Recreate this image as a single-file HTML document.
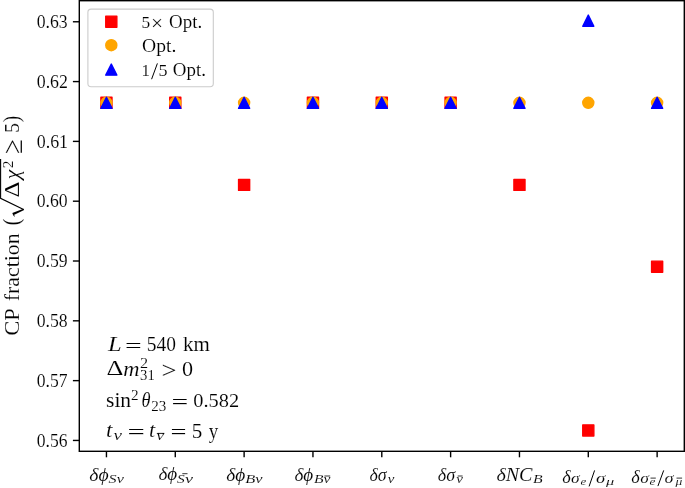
<!DOCTYPE html>
<html><head><meta charset="utf-8">
<style>
html,body{margin:0;padding:0;background:#fff;overflow:hidden;}
svg{display:block;will-change:transform;}
text{font-family:"Liberation Serif",serif;fill:#000;stroke:#fff;stroke-width:0.12px;vector-effect:non-scaling-stroke;}
</style></head>
<body>
<svg width="685" height="488" viewBox="0 0 685 488">
<rect x="0" y="0" width="685" height="488" fill="#fff"/>
<g stroke="#000" stroke-width="1.40">
<line x1="72.9" y1="21.77" x2="79.30" y2="21.77" stroke-width="1.4"/>
<line x1="72.9" y1="81.58" x2="79.30" y2="81.58" stroke-width="1.4"/>
<line x1="72.9" y1="141.39" x2="79.30" y2="141.39" stroke-width="1.4"/>
<line x1="72.9" y1="201.20" x2="79.30" y2="201.20" stroke-width="1.4"/>
<line x1="72.9" y1="261.01" x2="79.30" y2="261.01" stroke-width="1.4"/>
<line x1="72.9" y1="320.82" x2="79.30" y2="320.82" stroke-width="1.4"/>
<line x1="72.9" y1="380.63" x2="79.30" y2="380.63" stroke-width="1.4"/>
<line x1="72.9" y1="440.44" x2="79.30" y2="440.44" stroke-width="1.4"/>
<line x1="106.45" y1="451.30" x2="106.45" y2="457.3" stroke-width="1.4"/>
<line x1="175.28" y1="451.30" x2="175.28" y2="457.3" stroke-width="1.4"/>
<line x1="244.12" y1="451.30" x2="244.12" y2="457.3" stroke-width="1.4"/>
<line x1="312.95" y1="451.30" x2="312.95" y2="457.3" stroke-width="1.4"/>
<line x1="381.79" y1="451.30" x2="381.79" y2="457.3" stroke-width="1.4"/>
<line x1="450.62" y1="451.30" x2="450.62" y2="457.3" stroke-width="1.4"/>
<line x1="519.46" y1="451.30" x2="519.46" y2="457.3" stroke-width="1.4"/>
<line x1="588.29" y1="451.30" x2="588.29" y2="457.3" stroke-width="1.4"/>
<line x1="657.13" y1="451.30" x2="657.13" y2="457.3" stroke-width="1.4"/>
</g>
<text transform="translate(36.73 28.06) scale(0.9565 0.9869)" font-size="18.50">0.63</text>
<text transform="translate(36.72 87.87) scale(0.9658 0.9869)" font-size="18.50">0.62</text>
<text transform="translate(36.72 147.68) scale(0.9686 0.9869)" font-size="18.50">0.61</text>
<text transform="translate(36.73 207.49) scale(0.9559 0.9869)" font-size="18.50">0.60</text>
<text transform="translate(36.73 267.30) scale(0.9576 0.9869)" font-size="18.50">0.59</text>
<text transform="translate(36.73 327.11) scale(0.9559 0.9869)" font-size="18.50">0.58</text>
<text transform="translate(36.73 386.92) scale(0.9506 0.9869)" font-size="18.50">0.57</text>
<text transform="translate(36.73 446.73) scale(0.9512 0.9869)" font-size="18.50">0.56</text>
<rect x="100.90" y="97.30" width="11.10" height="11.10" fill="#ff0000" stroke="#ff0000" stroke-width="1.39" stroke-linejoin="round"/>
<rect x="169.73" y="97.30" width="11.10" height="11.10" fill="#ff0000" stroke="#ff0000" stroke-width="1.39" stroke-linejoin="round"/>
<rect x="238.57" y="179.32" width="11.10" height="11.10" fill="#ff0000" stroke="#ff0000" stroke-width="1.39" stroke-linejoin="round"/>
<rect x="307.40" y="97.30" width="11.10" height="11.10" fill="#ff0000" stroke="#ff0000" stroke-width="1.39" stroke-linejoin="round"/>
<rect x="376.24" y="97.30" width="11.10" height="11.10" fill="#ff0000" stroke="#ff0000" stroke-width="1.39" stroke-linejoin="round"/>
<rect x="445.07" y="97.30" width="11.10" height="11.10" fill="#ff0000" stroke="#ff0000" stroke-width="1.39" stroke-linejoin="round"/>
<rect x="513.91" y="179.32" width="11.10" height="11.10" fill="#ff0000" stroke="#ff0000" stroke-width="1.39" stroke-linejoin="round"/>
<rect x="582.75" y="424.84" width="11.10" height="11.10" fill="#ff0000" stroke="#ff0000" stroke-width="1.39" stroke-linejoin="round"/>
<rect x="651.58" y="261.14" width="11.10" height="11.10" fill="#ff0000" stroke="#ff0000" stroke-width="1.39" stroke-linejoin="round"/>
<circle cx="106.45" cy="102.85" r="5.55" fill="#ffa500" stroke="#ffa500" stroke-width="1.39"/>
<circle cx="175.28" cy="102.85" r="5.55" fill="#ffa500" stroke="#ffa500" stroke-width="1.39"/>
<circle cx="244.12" cy="102.85" r="5.55" fill="#ffa500" stroke="#ffa500" stroke-width="1.39"/>
<circle cx="312.95" cy="102.85" r="5.55" fill="#ffa500" stroke="#ffa500" stroke-width="1.39"/>
<circle cx="381.79" cy="102.85" r="5.55" fill="#ffa500" stroke="#ffa500" stroke-width="1.39"/>
<circle cx="450.62" cy="102.85" r="5.55" fill="#ffa500" stroke="#ffa500" stroke-width="1.39"/>
<circle cx="519.46" cy="102.85" r="5.55" fill="#ffa500" stroke="#ffa500" stroke-width="1.39"/>
<circle cx="588.29" cy="102.85" r="5.55" fill="#ffa500" stroke="#ffa500" stroke-width="1.39"/>
<circle cx="657.13" cy="102.85" r="5.55" fill="#ffa500" stroke="#ffa500" stroke-width="1.39"/>
<path d="M106.45 97.30L112.00 108.40L100.90 108.40Z" fill="#0000ff" stroke="#0000ff" stroke-width="1.39" stroke-linejoin="round"/>
<path d="M175.28 97.30L180.84 108.40L169.73 108.40Z" fill="#0000ff" stroke="#0000ff" stroke-width="1.39" stroke-linejoin="round"/>
<path d="M244.12 97.30L249.67 108.40L238.57 108.40Z" fill="#0000ff" stroke="#0000ff" stroke-width="1.39" stroke-linejoin="round"/>
<path d="M312.95 97.30L318.50 108.40L307.40 108.40Z" fill="#0000ff" stroke="#0000ff" stroke-width="1.39" stroke-linejoin="round"/>
<path d="M381.79 97.30L387.34 108.40L376.24 108.40Z" fill="#0000ff" stroke="#0000ff" stroke-width="1.39" stroke-linejoin="round"/>
<path d="M450.62 97.30L456.17 108.40L445.07 108.40Z" fill="#0000ff" stroke="#0000ff" stroke-width="1.39" stroke-linejoin="round"/>
<path d="M519.46 97.30L525.01 108.40L513.91 108.40Z" fill="#0000ff" stroke="#0000ff" stroke-width="1.39" stroke-linejoin="round"/>
<path d="M588.29 15.10L593.84 26.20L582.75 26.20Z" fill="#0000ff" stroke="#0000ff" stroke-width="1.39" stroke-linejoin="round"/>
<path d="M657.13 97.30L662.68 108.40L651.58 108.40Z" fill="#0000ff" stroke="#0000ff" stroke-width="1.39" stroke-linejoin="round"/>
<rect x="79.30" y="0.70" width="605.00" height="450.60" fill="none" stroke="#000" stroke-width="1.40"/>
<rect x="87.9" y="9.1" width="125.4" height="77.6" rx="3.2" fill="#fff" fill-opacity="0.8" stroke="#cccccc" stroke-width="1.1"/>
<rect x="105.75" y="16.10" width="11.10" height="11.10" fill="#ff0000" stroke="#ff0000" stroke-width="1.39" stroke-linejoin="round"/>
<circle cx="111.30" cy="45.15" r="5.55" fill="#ffa500" stroke="#ffa500" stroke-width="1.39"/>
<path d="M111.30 64.05L116.85 75.15L105.75 75.15Z" fill="#0000ff" stroke="#0000ff" stroke-width="1.39" stroke-linejoin="round"/>
<text transform="translate(141.59 27.63) scale(0.9393 0.9435)" font-size="18.50">5</text>
<text transform="translate(150.91 30.19) scale(1.1562 1.1283)" font-size="18.50">×</text>
<text transform="translate(169.02 27.70) scale(1.0231 1.0000)" font-size="18.50">Opt.</text>
<text transform="translate(142.10 51.70) scale(1.0593 1.0000)" font-size="18.50">Opt.</text>
<text transform="translate(141.53 75.70) scale(0.9059 0.9416)" font-size="18.50">1</text>
<line x1="151.60" y1="79.20" x2="157.40" y2="63.40" stroke="#000" stroke-width="1.00"/>
<text transform="translate(158.55 75.73) scale(0.9796 0.9517)" font-size="18.50">5</text>
<text transform="translate(172.82 75.70) scale(1.0231 1.0000)" font-size="18.50">Opt.</text>
<text transform="translate(89.32 480.50) scale(1.0640 1.0000)" font-size="18.50" font-style="italic">δϕ</text>
<text transform="translate(108.61 482.50) scale(1.2960 1.0000)" font-size="12.50" font-style="italic">Sν</text>
<text transform="translate(158.44 479.60) scale(1.0349 1.0000)" font-size="18.50" font-style="italic">δϕ</text>
<text transform="translate(177.12 483.30) scale(1.2368 1.0000)" font-size="12.50" font-style="italic">S</text>
<text transform="translate(184.95 483.30) scale(1.4506 1.0000)" font-size="12.50" font-style="italic">ν</text>
<text transform="translate(226.23 480.50) scale(1.0466 1.0000)" font-size="18.50" font-style="italic">δϕ</text>
<text transform="translate(245.25 482.50) scale(1.3086 1.0000)" font-size="12.50" font-style="italic">Bν</text>
<text transform="translate(294.44 480.50) scale(1.0349 1.0000)" font-size="18.50" font-style="italic">δϕ</text>
<text transform="translate(313.96 482.50) scale(1.2423 1.0000)" font-size="12.50" font-style="italic">B</text>
<text transform="translate(323.59 482.50) scale(1.2460 1.0000)" font-size="12.50" font-style="italic">ν</text>
<text transform="translate(369.48 480.50) scale(0.9680 1.0000)" font-size="18.50" font-style="italic">δσ</text>
<text transform="translate(387.80 482.50) scale(1.1902 1.0000)" font-size="12.50" font-style="italic">ν</text>
<text transform="translate(437.77 480.50) scale(0.9793 1.0000)" font-size="18.50" font-style="italic">δσ</text>
<text transform="translate(456.29 482.50) scale(1.2088 1.0000)" font-size="12.50" font-style="italic">ν</text>
<text transform="translate(496.41 480.50) scale(1.0848 1.0000)" font-size="18.50" font-style="italic">δNC</text>
<text transform="translate(532.95 482.50) scale(1.2561 1.0000)" font-size="12.50" font-style="italic">B</text>
<text transform="translate(562.26 482.70) scale(0.9878 1.0000)" font-size="18.50" font-style="italic">δ</text>
<text transform="translate(631.36 482.70) scale(0.9878 1.0000)" font-size="18.50" font-style="italic">δ</text>
<text transform="translate(571.08 482.85) scale(0.9498 0.8334)" font-size="18.50" font-style="italic">σ</text>
<text transform="translate(580.50 485.40) scale(1.0445 0.8483)" font-size="12.50" font-style="italic">e</text>
<text transform="translate(595.93 482.85) scale(1.0262 0.8334)" font-size="18.50" font-style="italic">σ</text>
<text transform="translate(605.92 484.87) scale(1.3114 0.7966)" font-size="12.50" font-style="italic">μ</text>
<text transform="translate(640.18 482.66) scale(0.9498 0.7819)" font-size="18.50" font-style="italic">σ</text>
<text transform="translate(649.59 485.20) scale(1.0650 0.8317)" font-size="12.50" font-style="italic">e</text>
<text transform="translate(664.55 482.66) scale(0.9935 0.7819)" font-size="18.50" font-style="italic">σ</text>
<text transform="translate(675.41 485.01) scale(1.0900 0.8204)" font-size="12.50" font-style="italic">μ</text>
<line x1="182.30" y1="473.70" x2="187.50" y2="473.70" stroke="#000" stroke-width="0.80"/>
<line x1="324.40" y1="476.00" x2="330.20" y2="476.00" stroke="#000" stroke-width="0.80"/>
<line x1="457.70" y1="476.00" x2="462.60" y2="476.00" stroke="#000" stroke-width="0.80"/>
<line x1="650.50" y1="478.10" x2="655.80" y2="478.10" stroke="#000" stroke-width="0.80"/>
<line x1="676.50" y1="478.10" x2="682.10" y2="478.10" stroke="#000" stroke-width="0.80"/>
<line x1="589.10" y1="486.40" x2="594.60" y2="470.40" stroke="#000" stroke-width="1.00"/>
<line x1="657.90" y1="486.10" x2="663.70" y2="470.40" stroke="#000" stroke-width="1.00"/>
<text transform="translate(107.89 351.00) scale(1.1823 1.0000)" font-size="20.80" font-style="italic">L</text>
<text transform="translate(125.02 352.36) scale(1.4258 0.9423)" font-size="20.80">=</text>
<text transform="translate(146.77 351.10) scale(0.9350 0.9618)" font-size="20.80">540</text>
<text transform="translate(182.90 351.00) scale(1.0094 1.0000)" font-size="20.80">km</text>
<text transform="translate(106.50 375.30) scale(1.2625 0.9759)" font-size="20.80">Δ</text>
<text transform="translate(123.29 375.50) scale(1.0824 1.0000)" font-size="20.80" font-style="italic">m</text>
<text transform="translate(140.09 367.60) scale(1.1922 1.0000)" font-size="13.60">2</text>
<text transform="translate(140.10 380.30) scale(1.0798 1.0000)" font-size="13.60">31</text>
<text transform="translate(161.45 377.95) scale(1.2811 1.0863)" font-size="20.80">&gt;</text>
<text transform="translate(181.96 375.80) scale(1.0663 0.9903)" font-size="20.80">0</text>
<text transform="translate(106.02 407.40) scale(1.0344 1.0000)" font-size="20.80">sin</text>
<text transform="translate(130.93 399.80) scale(1.1189 1.0000)" font-size="13.60">2</text>
<text transform="translate(141.40 407.40) scale(0.8836 1.0000)" font-size="20.80" font-style="italic">θ</text>
<text transform="translate(151.34 410.50) scale(1.1066 1.0000)" font-size="13.60">23</text>
<text transform="translate(171.62 409.09) scale(1.4258 1.0192)" font-size="20.80">=</text>
<text transform="translate(193.22 407.22) scale(0.9808 0.9344)" font-size="20.80">0.582</text>
<text transform="translate(106.08 437.20) scale(1.1172 1.0000)" font-size="20.80" font-style="italic">t</text>
<text transform="translate(113.44 440.30) scale(1.4016 1.0000)" font-size="13.60" font-style="italic">ν</text>
<text transform="translate(127.47 439.09) scale(1.4774 1.0192)" font-size="20.80">=</text>
<text transform="translate(149.03 437.20) scale(1.0604 1.0000)" font-size="20.80" font-style="italic">t</text>
<text transform="translate(156.36 440.30) scale(1.3162 1.0000)" font-size="13.60" font-style="italic">ν</text>
<line x1="157.30" y1="433.40" x2="164.30" y2="433.40" stroke="#000" stroke-width="0.90"/>
<text transform="translate(170.39 439.09) scale(1.3638 1.0192)" font-size="20.80">=</text>
<text transform="translate(191.67 437.60) scale(1.0145 0.9622)" font-size="20.80">5</text>
<text transform="translate(208.77 437.60) scale(0.9141 1.0000)" font-size="20.80">y</text>
<text transform="rotate(-90) translate(-335.67 18.80) scale(1.0248 1.0000)" font-size="22.00">CP</text>
<text transform="rotate(-90) translate(-301.17 18.80) scale(0.9926 1.0000)" font-size="22.00">fraction</text>
<text transform="rotate(-90) translate(-225.14 18.93) scale(0.8672 1.0176)" font-size="22.00">(</text>
<text transform="rotate(-90) translate(-197.55 18.60) scale(1.1296 0.9708)" font-size="22.00">Δ</text>
<text transform="rotate(-90) translate(-179.28 19.05) scale(0.9755 0.9066)" font-size="22.00" font-style="italic">χ</text>
<text transform="rotate(-90) translate(-168.17 12.80) scale(1.1189 0.9995)" font-size="13.60">2</text>
<text transform="rotate(-90) translate(-153.68 22.00) scale(1.1990 1.3004)" font-size="22.00">≥</text>
<text transform="rotate(-90) translate(-132.73 18.70) scale(0.8801 0.9439)" font-size="22.00">5</text>
<text transform="rotate(-90) translate(-122.21 19.03) scale(0.8672 1.0176)" font-size="22.00">)</text>
<path d="M23.6 209.5 L0.6 198.3 L0.6 158.9" fill="none" stroke="#000" stroke-width="1.1"/>
<path d="M12.3 212.9 L23.5 208.7 L24.1 210.1 L13.8 215.0 Z" fill="#000"/>
<line x1="12.90" y1="213.60" x2="14.40" y2="216.40" stroke="#000" stroke-width="1.00"/>
</svg>
</body></html>
